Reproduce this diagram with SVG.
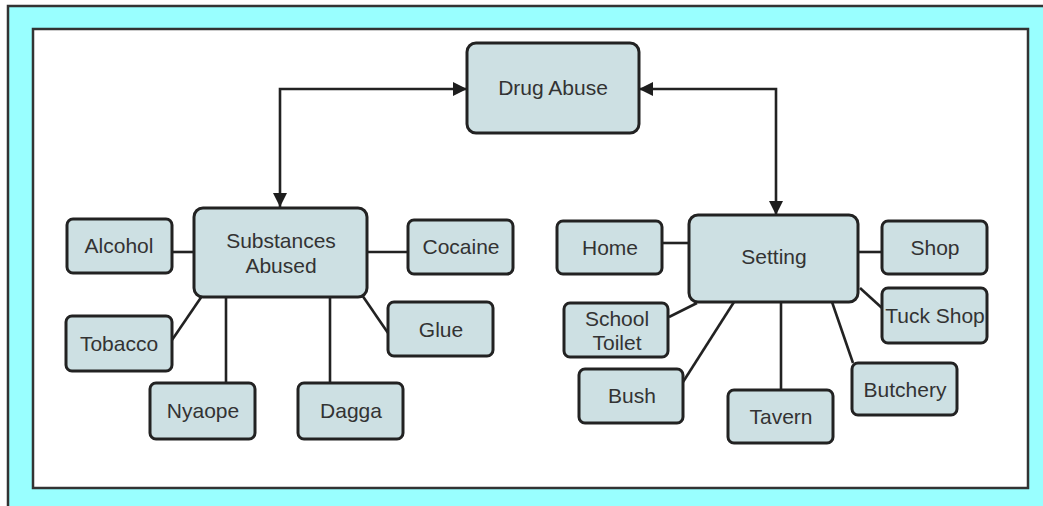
<svg xmlns="http://www.w3.org/2000/svg" width="1043" height="506" viewBox="0 0 1043 506">
  <defs>
    <marker id="arrow" viewBox="0 0 10 10" refX="10" refY="5" markerWidth="5.4" markerHeight="5.4" orient="auto-start-reverse" markerUnits="strokeWidth">
      <path d="M0,0 L10,5 L0,10 z" fill="#1e1e1e"/>
    </marker>
    <style>
      .frame { fill: #99ffff; stroke: #333; stroke-width: 2.5; }
      .panel { fill: #ffffff; stroke: #333; stroke-width: 2.5; }
      .node rect { fill: #cde0e3; stroke: #222; stroke-width: 3; }
      .node text { font-family: "Liberation Sans", Arial, sans-serif; font-size: 21px; fill: #333; text-anchor: middle; }
      .link { stroke: #222; stroke-width: 2.6; fill: none; }
    </style>
  </defs>

  <!-- background frame -->
  <rect class="frame" x="8" y="6" width="1050" height="510"/>
  <rect class="panel" x="33" y="29" width="995" height="459"/>

  <!-- connectors -->
  <g id="connectors">
    <path class="link" d="M280,207 L280,89 L467,89" marker-start="url(#arrow)" marker-end="url(#arrow)"/>
    <path class="link" d="M639,89 L776,89 L776,215" marker-start="url(#arrow)" marker-end="url(#arrow)"/>
    <!-- substances -->
    <line class="link" x1="172" y1="252" x2="194" y2="252"/>
    <line class="link" x1="367" y1="252" x2="408" y2="252"/>
    <line class="link" x1="172" y1="340" x2="202" y2="296"/>
    <line class="link" x1="226" y1="297" x2="226" y2="383"/>
    <line class="link" x1="330" y1="297" x2="330" y2="383"/>
    <line class="link" x1="362" y1="295" x2="388" y2="333"/>
    <!-- setting -->
    <line class="link" x1="662" y1="243" x2="689" y2="243"/>
    <line class="link" x1="858" y1="252" x2="882" y2="252"/>
    <line class="link" x1="860" y1="288" x2="882" y2="308"/>
    <line class="link" x1="669" y1="317" x2="697" y2="303"/>
    <line class="link" x1="683" y1="382" x2="734" y2="302"/>
    <line class="link" x1="781" y1="302" x2="781" y2="390"/>
    <line class="link" x1="832" y1="302" x2="853" y2="363"/>
  </g>

  <g id="drug-abuse" class="node">
    <rect x="467" y="43" width="172" height="90" rx="9"/>
    <text x="553" y="95">Drug Abuse</text>
  </g>

  <g id="substances-abused" class="node">
    <rect x="194" y="208" width="173" height="89" rx="9"/>
    <text x="281" y="248">Substances</text>
    <text x="281" y="273">Abused</text>
  </g>
  <g id="alcohol" class="node">
    <rect x="67" y="219" width="105" height="54" rx="6"/>
    <text x="119" y="253">Alcohol</text>
  </g>
  <g id="cocaine" class="node">
    <rect x="408" y="220" width="105" height="54" rx="6"/>
    <text x="461" y="254">Cocaine</text>
  </g>
  <g id="tobacco" class="node">
    <rect x="66" y="316" width="106" height="55" rx="6"/>
    <text x="119" y="351">Tobacco</text>
  </g>
  <g id="glue" class="node">
    <rect x="388" y="302" width="105" height="54" rx="6"/>
    <text x="441" y="337">Glue</text>
  </g>
  <g id="nyaope" class="node">
    <rect x="150" y="383" width="105" height="56" rx="6"/>
    <text x="203" y="418">Nyaope</text>
  </g>
  <g id="dagga" class="node">
    <rect x="298" y="383" width="105" height="56" rx="6"/>
    <text x="351" y="418">Dagga</text>
  </g>

  <g id="setting" class="node">
    <rect x="689" y="215" width="169" height="87" rx="9"/>
    <text x="774" y="264">Setting</text>
  </g>
  <g id="home" class="node">
    <rect x="557" y="221" width="105" height="53" rx="6"/>
    <text x="610" y="255">Home</text>
  </g>
  <g id="shop" class="node">
    <rect x="882" y="221" width="105" height="53" rx="6"/>
    <text x="935" y="255">Shop</text>
  </g>
  <g id="tuck-shop" class="node">
    <rect x="882" y="288" width="105" height="55" rx="6"/>
    <text x="935" y="323">Tuck Shop</text>
  </g>
  <g id="school-toilet" class="node">
    <rect x="564" y="303" width="104" height="54" rx="6"/>
    <text x="617" y="326">School</text>
    <text x="617" y="350">Toilet</text>
  </g>
  <g id="bush" class="node">
    <rect x="579" y="369" width="104" height="54" rx="6"/>
    <text x="632" y="403">Bush</text>
  </g>
  <g id="tavern" class="node">
    <rect x="728" y="390" width="105" height="53" rx="6"/>
    <text x="781" y="424">Tavern</text>
  </g>
  <g id="butchery" class="node">
    <rect x="852" y="363" width="105" height="52" rx="6"/>
    <text x="905" y="397">Butchery</text>
  </g>
</svg>
